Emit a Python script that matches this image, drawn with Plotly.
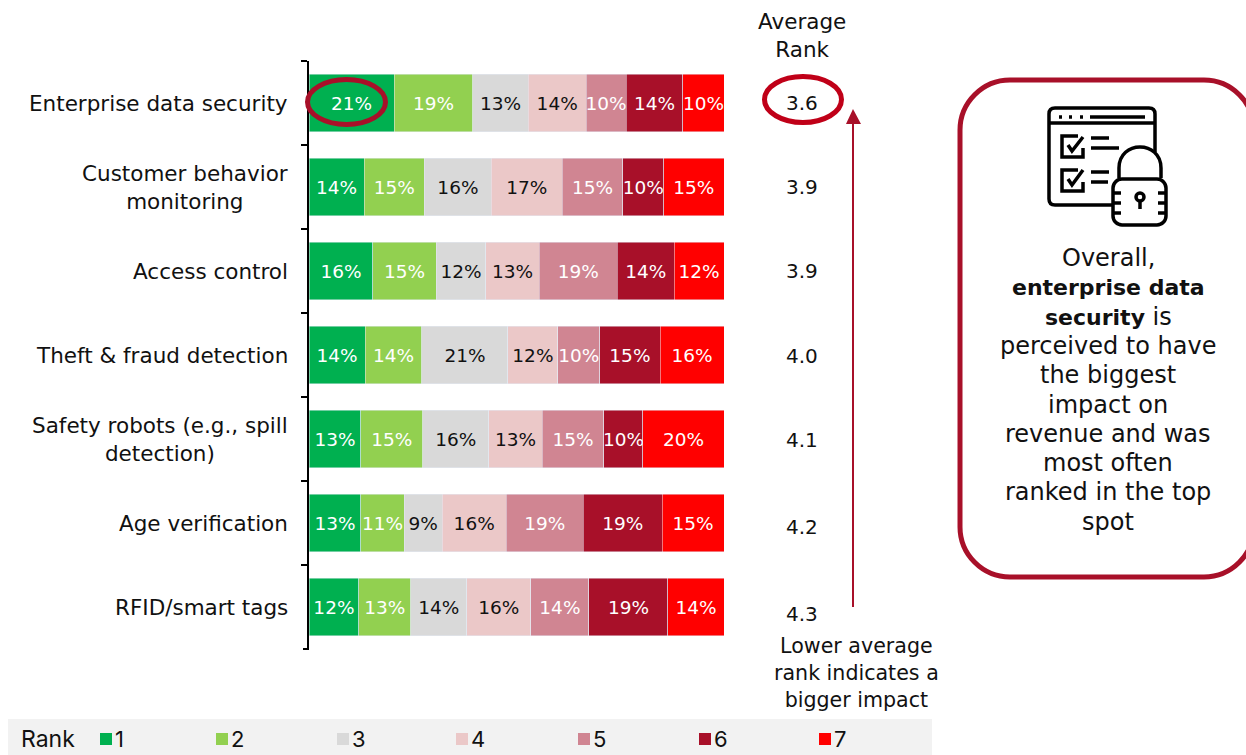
import plotly.graph_objects as go

#-----------
#   Data
#-----------
categories = ["Enterprise data security", "Customer behavior<br>monitoring", "Access control",
              "Theft & fraud detection", "Safety robots (e.g., spill<br>detection)",
              "Age verification", "RFID/smart tags"]
avg_rank = ["3.6", "3.9", "3.9", "4.0", "4.1", "4.2", "4.3"]
rank_names = ["1", "2", "3", "4", "5", "6", "7"]

# segment lengths
rank1 = [20.5, 13.3, 15.4, 13.5, 12.5, 12.5, 12.0]
rank2 = [19.0, 14.5, 15.2, 13.7, 14.9, 10.4, 12.5]
rank3 = [13.3, 16.1, 12.0, 20.7, 15.9, 9.2, 13.5]
rank4 = [14.0, 17.1, 12.8, 12.0, 12.8, 15.4, 15.4]
rank5 = [9.6, 14.5, 18.8, 10.1, 14.9, 18.6, 14.0]
rank6 = [13.7, 9.9, 13.7, 14.5, 9.4, 19.0, 19.0]
rank7 = [9.9, 14.5, 12.0, 15.4, 19.5, 14.9, 13.5]

# printed labels
label1 = [21, 14, 16, 14, 13, 13, 12]
label2 = [19, 15, 15, 14, 15, 11, 13]
label3 = [13, 16, 12, 21, 16, 9, 14]
label4 = [14, 17, 13, 12, 13, 16, 16]
label5 = [10, 15, 19, 10, 15, 19, 14]
label6 = [14, 10, 14, 15, 10, 19, 19]
label7 = [10, 15, 12, 16, 20, 15, 14]

values = [rank1, rank2, rank3, rank4, rank5, rank6, rank7]
labels = [label1, label2, label3, label4, label5, label6, label7]
colors = ["#00B050", "#92D050", "#D9D9D9", "#EBC8C8", "#D08592", "#A81029", "#FF0000"]
text_colors = ["white", "white", "#111111", "#111111", "white", "white", "white"]

BOLD = '<span style="font-size:22px"><b>%s</b></span>'
note_lines = ["Overall,", BOLD % "enterprise data", BOLD % "security" + " is", "perceived to have",
              "the biggest", "impact on", "revenue and was", "most often", "ranked in the top", "spot"]

W, H = 1246, 755
FONT = "DejaVu Sans"
LEGEND_FONT = "Inter"
DARK = "#A81029"
INK = "#111111"


def px(x):
  return x / W


def py(y):
  return 1 - y / H


def line(x0, y0, x1, y1, color="black", width=3.5):
  return dict(type="line", xref="paper", yref="paper", x0=px(x0), y0=py(y0), x1=px(x1), y1=py(y1),
              line=dict(color=color, width=width))


def path(points, close=False, width=3.5, color="black", fill=None):
  # points: plain [x, y] pairs, or ("C", x1, y1, x2, y2, x, y) for curves
  d = ""
  for i, p in enumerate(points):
    if p[0] == "C":
      d += "C%.5f,%.5f %.5f,%.5f %.5f,%.5f " % (px(p[1]), py(p[2]), px(p[3]), py(p[4]), px(p[5]), py(p[6]))
    else:
      d += ("M" if i == 0 else "L") + "%.5f,%.5f " % (px(p[0]), py(p[1]))
  if close:
    d += "Z"
  s = dict(type="path", xref="paper", yref="paper", path=d, line=dict(color=color, width=width))
  if fill:
    s["fillcolor"] = fill
  return s


def ellipse(x0, y0, x1, y1, color, width=5, fill=None):
  s = dict(type="circle", xref="paper", yref="paper", x0=px(x0), y0=py(y0), x1=px(x1), y1=py(y1),
           line=dict(color=color, width=width))
  if fill:
    s["fillcolor"] = fill
  return s


def rounded(x0, y0, x1, y1, r):
  k = r * 0.45
  return [[x0 + r, y0], [x1 - r, y0], ("C", x1 - k, y0, x1, y0 + k, x1, y0 + r),
          [x1, y1 - r], ("C", x1, y1 - k, x1 - k, y1, x1 - r, y1),
          [x0 + r, y1], ("C", x0 + k, y1, x0, y1 - k, x0, y1 - r),
          [x0, y0 + r], ("C", x0, y0 + k, x0 + k, y0, x0 + r, y0)]


def text(x, y, s, size=20, anchor="center", align="center", color=INK, family=FONT):
  return dict(xref="paper", yref="paper", x=px(x), y=py(y), text=s, showarrow=False, xanchor=anchor,
              yanchor="middle", align=align, font=dict(family=family, size=size, color=color))


#-----------
#   Bars
#-----------
fig = go.Figure()
for i in range(len(values)):
  fig.add_trace(go.Bar(
      y=categories,
      x=values[i],
      name=rank_names[i],
      orientation="h",
      marker_color=colors[i],
      text=["%d%%" % v for v in labels[i]],
      textposition="inside",
      insidetextanchor="middle",
      textangle=0,
      constraintext="none",
      textfont=dict(family=FONT, size=18.5, color=text_colors[i]),
      showlegend=False,
  ))

fig.update_layout(
    barmode="stack",
    barnorm="percent",
    bargap=0.31,
    width=W, height=H,
    margin=dict(l=0, r=0, t=0, b=0),
    paper_bgcolor="white",
    plot_bgcolor="white",
    font=dict(family=FONT, color=INK),
)
fig.update_xaxes(domain=[px(309), px(724)], range=[0, 100], visible=False)
fig.update_yaxes(domain=[py(649), py(61)], autorange="reversed", showticklabels=False,
                 showline=True, linecolor="black", linewidth=2, showgrid=False,
                 ticks="outside", ticklen=6, tickwidth=2, tickcolor="black", tickson="boundaries")

#-----------
#   Texts
#-----------
notes = []
# category labels, centred lines as in the original
for cat in categories:
  notes.append(dict(xref="paper", yref="y", x=px(290), y=cat, text=cat, showarrow=False, xanchor="right",
                    align="center", font=dict(family=FONT, size=21.5, color=INK)))

# average rank column drifts down a little from the bar centres
shift = [0, 0, 0, -1, -1, -4, -7]
for cat, val, s in zip(categories, avg_rank, shift):
  notes.append(dict(xref="paper", yref="y", x=px(802), y=cat, text=val, showarrow=False, yshift=s,
                    font=dict(family=FONT, size=20, color=INK)))

notes.append(text(802, 36, "Average<br>Rank", size=21.5))
notes.append(text(856, 673, "Lower average<br>rank indicates a<br>bigger impact", size=20.6))
# line by line, the original has tighter leading than plotly's default
for i, s in enumerate(note_lines):
  notes.append(text(1108, 258 + i * 29.3, s, size=24))

#-----------
#   Shapes
#-----------
shapes = [
    ellipse(307.5, 79.5, 385.5, 124.5, DARK),
    ellipse(764.5, 76.5, 841.5, 122.5, "#C00018"),
    line(853, 607, 853, 122, DARK, 2),
    path([[853, 109], [861, 124], [846, 124]], close=True, width=0, color=DARK, fill=DARK),
    path(rounded(960, 80, 1254, 577, 50), close=True, width=5, color=DARK),
    # plotly leaves the closing boundary tick off
    line(303, 649, 309, 649, "black", 2),
]

# window + lock icon
shapes += [
    path([[1113, 205], [1055, 205], ("C", 1051, 205, 1049, 203, 1049, 199), [1049, 114],
          ("C", 1049, 110, 1051, 108, 1055, 108), [1149, 108], ("C", 1153, 108, 1155, 110, 1155, 114),
          [1155, 152]]),
    line(1049, 123, 1155, 123),
    line(1059, 117, 1062, 117), line(1069, 117, 1072, 117), line(1080, 117, 1083, 117),
    line(1090, 117, 1145, 117),
    # checkboxes
    path([[1078, 136], [1062, 136], [1062, 157], [1083, 157], [1083, 148]]),
    path([[1068, 145], [1072, 151], [1083, 137]]),
    path([[1078, 170], [1062, 170], [1062, 191], [1083, 191], [1083, 182]]),
    path([[1068, 179], [1072, 185], [1083, 170]]),
    line(1091, 138, 1109, 138), line(1091, 148, 1119, 148),
    line(1091, 172, 1109, 172), line(1091, 182, 1108, 182),
    # lock
    path([[1119, 178], [1119, 168], ("C", 1119, 140, 1161, 140, 1161, 168), [1161, 178]]),
    path(rounded(1113, 179, 1166, 225, 9), close=True),
    line(1113, 193, 1121, 193), line(1113, 203, 1121, 203), line(1113, 213, 1121, 213),
    line(1158, 193, 1166, 193), line(1158, 203, 1166, 203), line(1158, 213, 1166, 213),
    ellipse(1136, 193, 1144, 201, "black", 3.5),
    line(1140, 201, 1140, 209),
]

#-----------
#   Legend strip
#-----------
shapes.append(dict(type="rect", xref="paper", yref="paper", x0=px(8), x1=px(932), y0=py(755), y1=py(719),
                   line_width=0, fillcolor="#F2F2F2", layer="below"))
notes.append(text(19, 739, "Rank", size=23, anchor="left", family=LEGEND_FONT))
legend_x = [100, 216, 337, 456, 578, 699, 819]
for x, name, col in zip(legend_x, rank_names, colors):
  shapes.append(dict(type="rect", xref="paper", yref="paper", x0=px(x), x1=px(x + 12), y0=py(745), y1=py(733),
                     line_width=0, fillcolor=col))
  notes.append(text(x + 13, 739, name, size=22, anchor="left", family=LEGEND_FONT))

fig.update_layout(shapes=shapes, annotations=notes)

fig.write_html("out.html", config=dict(displayModeBar=False),
               post_script="document.body.style.margin='0';document.documentElement.style.overflow='hidden';")
